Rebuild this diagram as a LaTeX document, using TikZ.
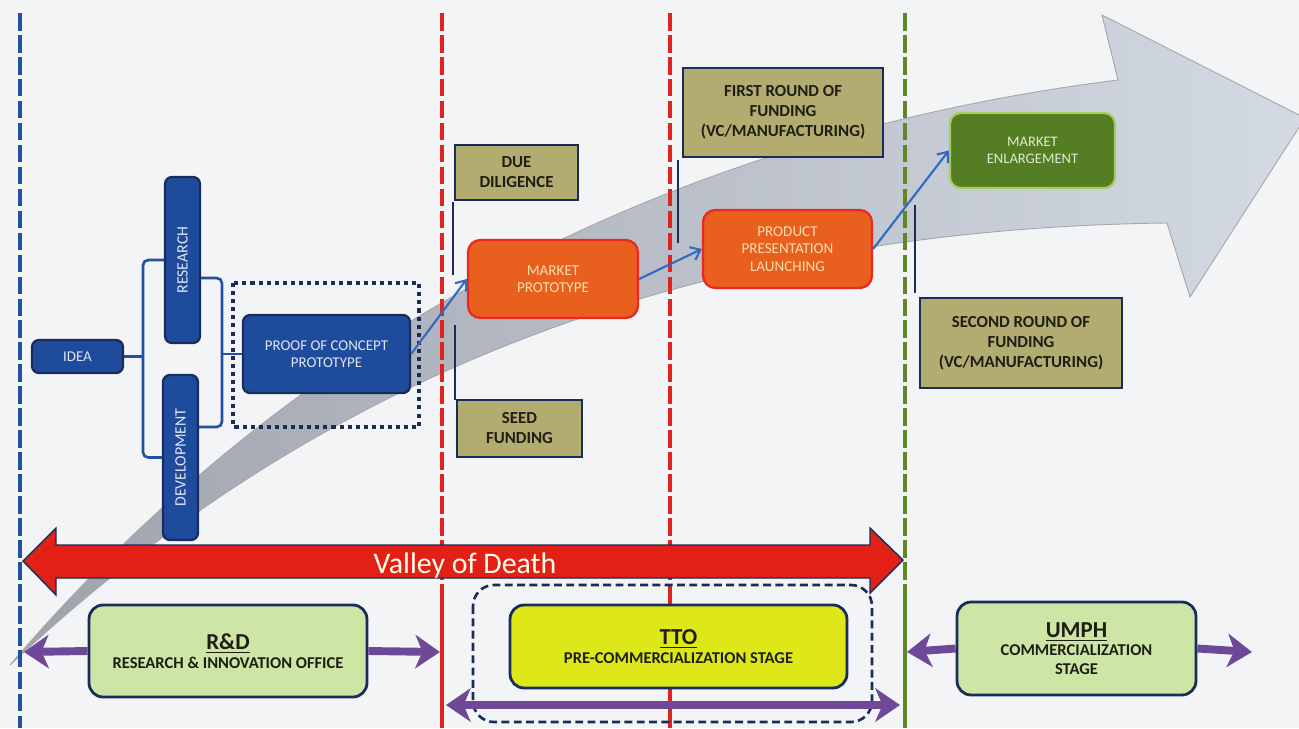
\documentclass[tikz,border=0pt]{standalone}
\usepackage{fontspec}
\setmainfont{Carlito}
\usetikzlibrary{arrows.meta}
\definecolor{bgcol}{RGB}{243,244,246}
\definecolor{rdblue}{RGB}{35,80,165}
\definecolor{boxblue}{RGB}{30,75,155}
\definecolor{boxnavy}{RGB}{25,45,90}
\definecolor{boxtext}{RGB}{225,230,245}
\definecolor{ttored}{RGB}{225,35,30}
\definecolor{commgreen}{RGB}{95,135,40}
\definecolor{protoorange}{RGB}{232,95,30}
\definecolor{protoedge}{RGB}{235,40,35}
\definecolor{prototext}{RGB}{255,222,175}
\definecolor{enlgreen}{RGB}{85,125,35}
\definecolor{enledge}{RGB}{165,205,95}
\definecolor{enltext}{RGB}{225,235,210}
\definecolor{fundolive}{RGB}{178,172,112}
\definecolor{fundtext}{RGB}{30,30,20}
\definecolor{stagegreen}{RGB}{205,230,165}
\definecolor{stageyellow}{RGB}{222,232,25}
\definecolor{stagepurple}{RGB}{112,72,152}
\definecolor{valleyred}{RGB}{226,32,22}
\definecolor{curvelight}{RGB}{212,218,228}
\definecolor{curvedark}{RGB}{158,163,174}
\definecolor{flowblue}{RGB}{50,105,195}

\begin{document}
\begin{tikzpicture}[x=0.02cm,y=-0.02cm,
  stageline/.style={draw=#1, line width=2.2pt, dash pattern=on 10pt off 2.5pt},
  ideabox/.style={draw=boxnavy, fill=boxblue, line width=1.3pt, rounded corners=4pt,
    text=boxtext, align=center, inner sep=1pt, font=\fontsize{8.5}{10}\selectfont},
  protobox/.style={draw=protoedge, fill=protoorange, line width=1.3pt, rounded corners=7pt,
    text=prototext, align=center, inner sep=1pt, font=\fontsize{8.6}{10}\selectfont},
  enlbox/.style={draw=enledge, fill=enlgreen, line width=1.3pt, rounded corners=6pt,
    text=enltext, align=center, inner sep=1pt, font=\fontsize{8.3}{9.8}\selectfont},
  fundbox/.style={draw=boxnavy, fill=fundolive, line width=1.6pt, text=fundtext,
    align=center, inner sep=1pt, font=\bfseries\fontsize{9.6}{11.4}\selectfont},
  stagebox/.style={draw=boxnavy, fill=#1, line width=1.6pt, rounded corners=8pt,
    text=fundtext, align=center, inner sep=1pt, font=\bfseries\fontsize{9.4}{10.5}\selectfont},
  tick/.style={draw=boxnavy, line width=1.5pt},
  bracket/.style={draw=rdblue, line width=1.5pt, rounded corners=3pt},
  flowarrow/.style={draw=flowblue, line width=1.2pt, -{Straight Barb[length=5pt,width=8pt]}},
  stagearrow/.style={draw=stagepurple, line width=4.5pt, -{Stealth[length=14pt,width=19pt,inset=4pt]}}]

  \fill[bgcol] (0,0) rectangle (1299,728);
  \useasboundingbox (0,0) rectangle (1299,728);
  \clip (0,0) rectangle (1299,728);

  % big curved arrow
  \shade[left color=curvedark, right color=curvelight, draw=gray!70, line width=0.5pt]
    (10,665) .. controls (215,425) and (560,150) .. (1118,80) -- (1102,15) -- (1305,118)
    -- (1190,297) -- (1167,223) .. controls (600,230) and (250,440) .. (10,665) -- cycle;

  % stage borders
  \draw[stageline=rdblue] (20,13) -- (20,728);
  \draw[stageline=ttored] (442,13) -- (442,600);
  \draw[stageline=ttored] (670,13) -- (670,590);
  \draw[stageline=commgreen] (905,13) -- (905,600);
  \draw[ttored, line width=2.2pt] (442,600) -- (442,728);
  \draw[ttored, line width=2.2pt] (670,590) -- (670,728);
  \draw[commgreen, line width=2.2pt] (905,600) -- (905,728);

  % research and development
  \draw[boxnavy, line width=1.8pt, dash pattern=on 2.3pt off 2.3pt] (233,283) rectangle (419,427);
  \node[ideabox, minimum width=1.82cm, minimum height=0.66cm] (idea) at (77.5,356.5) {IDEA};
  \node[ideabox, rotate=90, minimum width=3.32cm, minimum height=0.7cm, font=\fontsize{9}{10}\selectfont] (res) at (182.5,260) {RESEARCH};
  \node[ideabox, rotate=90, minimum width=3.3cm, minimum height=0.7cm, font=\fontsize{9}{10}\selectfont] (dev) at (180.5,457.5) {DEVELOPMENT};
  \node[ideabox, minimum width=3.34cm, minimum height=1.56cm] (proof) at (326.5,354) {PROOF OF CONCEPT\\PROTOTYPE};
  \coordinate (split) at (143,356.5);
  \coordinate (join) at (222,354);
  \draw[bracket] (res.north) -| (split) |- (dev.north);
  \draw[bracket] (idea.east) -- (split);
  \draw[bracket] (res.south |- 0,278) -| (join) |- (dev.south |- 0,427);
  \draw[bracket] (join) -- (proof.west);

  % market steps
  \node[protobox, minimum width=3.4cm, minimum height=1.56cm] (mproto) at (553,279) {MARKET\\PROTOTYPE};
  \node[protobox, minimum width=3.38cm, minimum height=1.56cm] (launch) at (787.5,249) {PRODUCT\\PRESENTATION\\LAUNCHING};
  \node[enlbox, minimum width=3.3cm, minimum height=1.5cm] (enlarge) at (1032.5,150.5) {MARKET\\ENLARGEMENT};
  \draw[flowarrow] (proof.east) -- (mproto.west);
  \draw[flowarrow] (mproto.east) -- (launch.west);
  \draw[flowarrow] (launch.east) -- (enlarge.west);

  % funding
  \node[fundbox, minimum width=2.46cm, minimum height=1.1cm] (due) at (516.5,172.5) {DUE\\DILIGENCE};
  \node[fundbox, minimum width=2.5cm, minimum height=1.14cm] (seed) at (519.5,428.5) {SEED\\FUNDING};
  \node[fundbox, minimum width=4cm, minimum height=1.78cm] (first) at (783,112.5) {FIRST ROUND OF\\FUNDING\\(VC/MANUFACTURING)};
  \node[fundbox, minimum width=4.04cm, minimum height=1.8cm] (second) at (1021,343) {SECOND ROUND OF\\FUNDING\\(VC/MANUFACTURING)};
  \draw[tick] (453,202) -- (453,275);
  \draw[tick] (455,325) -- (455,400);
  \draw[tick] (678,160) -- (678,243);
  \draw[tick] (915,205) -- (915,293);

  % valley of death
  \draw[fill=valleyred, draw=boxnavy, line width=0.8pt]
    (23,561) -- (56,528) -- (56,545) -- (870,545) -- (870,528) -- (903,560)
    -- (870,593) -- (870,578) -- (56,578) -- (56,595) -- cycle;
  \node[anchor=base, text=white!92!yellow, font=\fontsize{17}{20}\selectfont] (valley) at (465,573) {Valley of Death};

  % offices
  \draw[boxnavy, line width=1.5pt, rounded corners=12pt, dash pattern=on 4.5pt off 2.5pt] (473,585) rectangle (872,722);
  \node[stagebox=stagegreen, minimum width=5.56cm, minimum height=1.84cm] (rnd) at (228,651)
    {{\fontsize{13}{14}\selectfont\underline{R\&D}}\\RESEARCH \& INNOVATION OFFICE};
  \node[stagebox=stageyellow, minimum width=6.74cm, minimum height=1.66cm] (tto) at (678.5,646.5)
    {{\fontsize{13}{14}\selectfont\underline{TTO}}\\PRE-COMMERCIALIZATION STAGE};
  \node[stagebox=stagegreen, minimum width=4.78cm, minimum height=1.86cm] (umph) at (1076.5,648.5)
    {{\fontsize{13}{14}\selectfont\underline{UMPH}}\\COMMERCIALIZATION\\STAGE};
  \coordinate (rndleft) at (24,652);
  \coordinate (rndright) at (440,652);
  \coordinate (ttoleft) at (446,705);
  \coordinate (ttoright) at (900,705);
  \coordinate (umphleft) at (907,652);
  \coordinate (umphright) at (1252,652);
  \draw[stagearrow] (rnd.west) -- (rndleft);
  \draw[stagearrow] (rnd.east) -- (rndright);
  \draw[stagearrow, {Stealth[length=14pt,width=19pt,inset=4pt]}-{Stealth[length=14pt,width=19pt,inset=4pt]}] (ttoleft) -- (ttoright);
  \draw[stagearrow] (umph.west) -- (umphleft);
  \draw[stagearrow] (umph.east) -- (umphright);
\end{tikzpicture}
\end{document}
